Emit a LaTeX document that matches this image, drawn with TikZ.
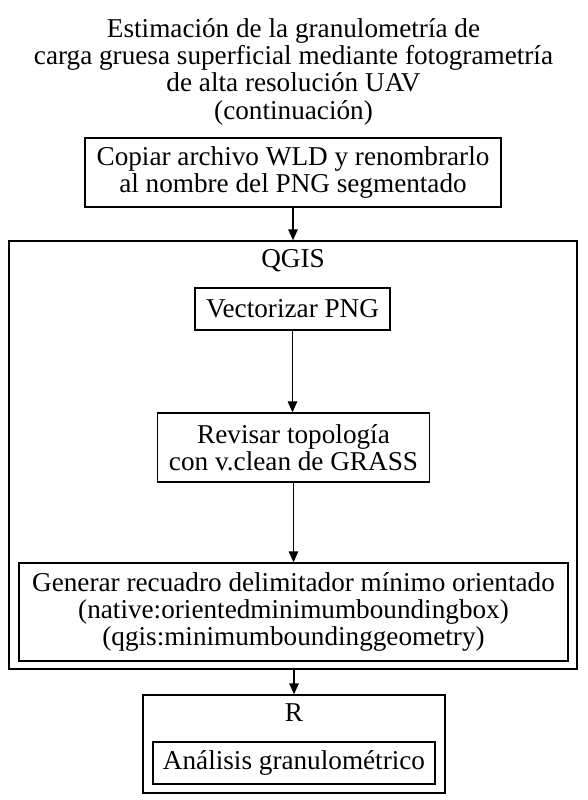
\documentclass[tikz,border=0pt]{standalone}
\usepackage{fontspec}
\setmainfont{Liberation Serif}
\usetikzlibrary{arrows.meta}
\tikzset{
  txt/.style={font=\fontsize{27.2}{27.3}\selectfont},
  box/.style={txt, draw, line width=1.35pt, inner sep=0pt, align=center},
  cluster/.style={draw, line width=1.35pt, inner sep=0pt},
  lbl/.style={txt, inner sep=0pt, anchor=base},
  arr/.style={-{Triangle[length=11pt,width=9.5pt]}, line width=1.35pt}
}
\begin{document}
\begin{tikzpicture}[x=1pt,y=-1pt]
\useasboundingbox (0,0) rectangle (588,800);
% title
\node[lbl, align=center] (title) at (293.5,119)
  {Estimación de la granulometría de\\carga gruesa superficial mediante fotogrametría\\de alta resolución UAV\\(continuación)};
% first box
\node[box, minimum width=416pt, minimum height=69pt] (copiar) at (293,172.5)
  {Copiar archivo WLD y renombrarlo\\al nombre del PNG segmentado};
% QGIS cluster
\node[cluster, minimum width=568pt, minimum height=428pt] (qgis) at (293,455) {};
\node[lbl] (qgislbl) at (293,267) {QGIS};
\node[box, minimum width=195pt, minimum height=42pt] (vect) at (292.5,309) {Vectorizar PNG};
\node[box, minimum width=272pt, minimum height=69pt] (revisar) at (293.5,447.5)
  {Revisar topología\\con v.clean de GRASS};
\node[box, minimum width=549pt, minimum height=98pt] (generar) at (293.5,612)
  {Generar recuadro delimitador mínimo orientado\\(native:orientedminimumboundingbox)\\(qgis:minimumboundinggeometry)};
% R cluster
\node[cluster, minimum width=302pt, minimum height=98pt] (rclus) at (294,744) {};
\node[lbl] (rlbl) at (294,721.7) {R};
\node[box, minimum width=282pt, minimum height=42pt] (analisis) at (294,763) {Análisis granulométrico};
% edges
\draw[arr] (copiar.south) -- (copiar.south |- qgis.north);
\draw[arr] (vect.south) -- (vect.south |- revisar.north);
\draw[arr] (revisar.south) -- (revisar.south |- generar.north);
\draw[arr] (qgis.south -| rclus.north) -- (rclus.north);
\end{tikzpicture}
\end{document}
